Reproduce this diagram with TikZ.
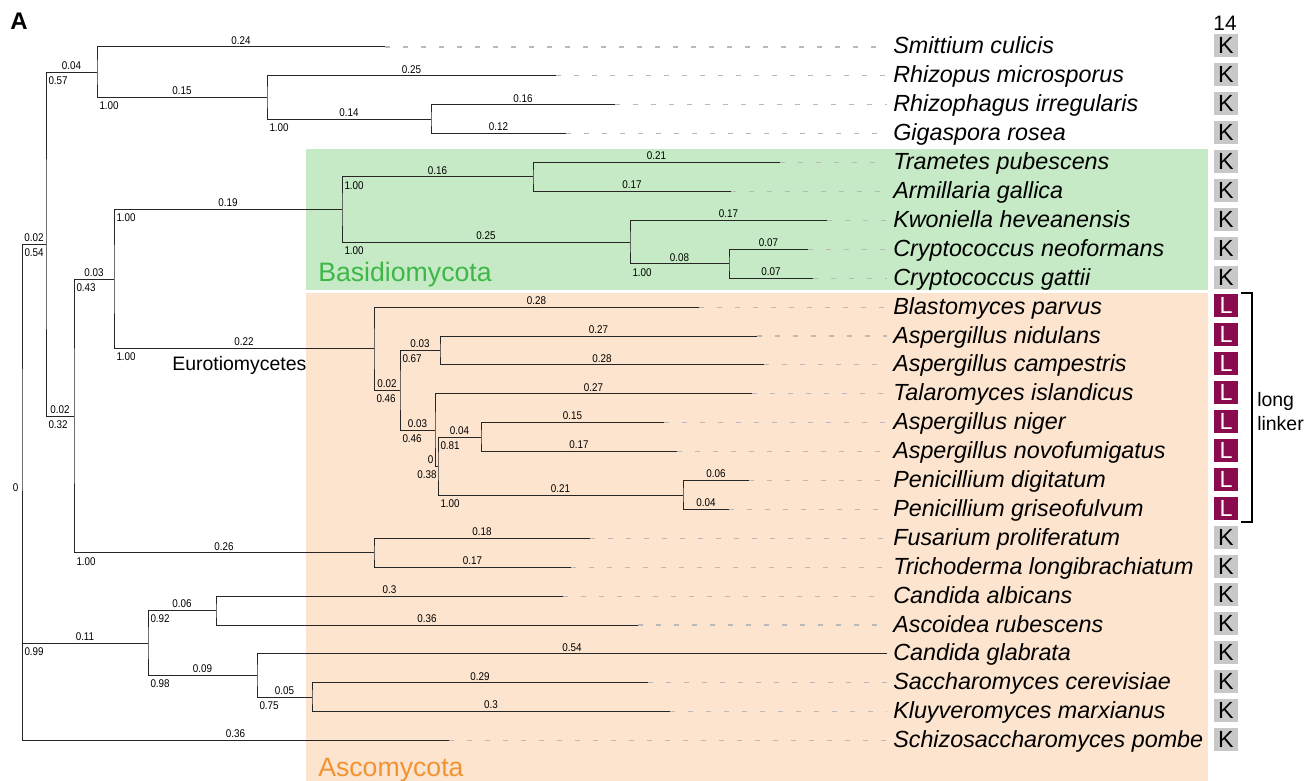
\documentclass[tikz,border=0pt]{standalone}
\usepackage{fontspec}
\setmainfont{Liberation Sans}
\newfontfamily\narrowsans[FakeStretch=0.88]{Liberation Sans}
\usepackage{xcolor}

\definecolor{basidiofill}{RGB}{197,234,197}
\definecolor{ascofill}{RGB}{252,228,206}
\definecolor{basidiotext}{RGB}{63,182,72}
\definecolor{ascotext}{RGB}{243,146,50}
\definecolor{linkerred}{RGB}{138,12,78}
\definecolor{kgrey}{RGB}{200,200,200}
\definecolor{dashgrey}{RGB}{185,185,185}

\tikzset{
	branch/.style={line width=0.75pt, draw=black!85},
	blen/.style={anchor=south, inner sep=0pt, yshift=1.6pt, font=\narrowsans\fontsize{8.4}{8.4}\selectfont},
	bsup/.style={anchor=north west, inner sep=0pt, xshift=1.5pt, yshift=-3pt, font=\narrowsans\fontsize{8.4}{8.4}\selectfont},
	leafdash/.style={draw=dashgrey, line width=0.8pt, dash pattern=on 3.75pt off 9.75pt, shorten >=4.5pt},
	taxon/.style={anchor=base west, inner sep=0pt, yshift=-5.25pt, font=\fontsize{17.5}{17.5}\selectfont\itshape},
	kbox/.style={fill=kgrey, minimum width=18pt, minimum height=17.25pt, inner sep=0pt, yshift=0.9pt, font=\fontsize{17.5}{17.5}\selectfont},
	lbox/.style={kbox, fill=linkerred, text=white},
	cladename/.style={anchor=base west, inner sep=0pt, font=\fontsize{20}{20}\selectfont},
	plainlab/.style={anchor=base west, inner sep=0pt, font=\fontsize{14.6}{14.6}\selectfont}
}

\begin{document}
\begin{tikzpicture}[x=0.75pt, y=-0.75pt]
		\useasboundingbox (0,0) rectangle (1314,781);
		%
		%Basidiomycota
		\fill[basidiofill] (306,149) rectangle (1208,289.5);
		\node[cladename, text=basidiotext] (basidio) at (318,281.7) {Basidiomycota};
		%
		%Ascomycota
		\fill[ascofill] (306,293) rectangle (1208,781);
		\node[cladename, text=ascotext] (asco) at (318,776.7) {Ascomycota};
		%
		%Panel and column
		\node[anchor=base west, inner sep=0pt, font=\fontsize{18}{18}\selectfont\bfseries] (panel) at (10,30) {A};
		\node[anchor=base, inner sep=0pt, font=\fontsize{15.7}{15.7}\selectfont] (colhead) at (1225,31) {14};
		%
		%Inner nodes
		\coordinate (root) at (22,491);
		\coordinate (nA) at (46,244);
		\coordinate (nB) at (97,72.5);
		\coordinate (nC) at (267,97.5);
		\coordinate (nD) at (431,119.3);
		\coordinate (nE) at (74,416);
		\coordinate (nF) at (114,279);
		\coordinate (nG) at (342,209.5);
		\coordinate (nH) at (533,177);
		\coordinate (nI) at (630,242.1);
		\coordinate (nJ) at (729,263.8);
		\coordinate (nK) at (374,348.6);
		\coordinate (nL) at (400,390);
		\coordinate (nM) at (440,350.5);
		\coordinate (nN) at (435,430);
		\coordinate (nO) at (438,466);
		\coordinate (nP) at (481,437.2);
		\coordinate (nQ) at (683,495);
		\coordinate (nR) at (374,552.8);
		\coordinate (nS) at (148,643);
		\coordinate (nT) at (216,610.6);
		\coordinate (nU) at (257,675.6);
		\coordinate (nV) at (312,697.3);
		%
		%Leaf ends
		\coordinate (lSmit) at (385,47);
		\coordinate (lRhizo) at (556,75.9);
		\coordinate (lRhizoph) at (615,104.8);
		\coordinate (lGiga) at (566,133.7);
		\coordinate (lTram) at (780,162.6);
		\coordinate (lArmi) at (731,191.5);
		\coordinate (lKwon) at (827,220.4);
		\coordinate (lCneo) at (808,249.3);
		\coordinate (lCgat) at (813,278.2);
		\coordinate (lBlast) at (699,307.1);
		\coordinate (lAnid) at (757,336);
		\coordinate (lAcamp) at (764,364.9);
		\coordinate (lTala) at (752,393.8);
		\coordinate (lAnig) at (664,422.7);
		\coordinate (lAnov) at (677,451.6);
		\coordinate (lPdig) at (749,480.5);
		\coordinate (lPgris) at (729,509.4);
		\coordinate (lFus) at (590,538.3);
		\coordinate (lTri) at (571,567.2);
		\coordinate (lCalb) at (563,596.1);
		\coordinate (lAsco) at (638,625);
		\coordinate (lCgla) at (887,653.9);
		\coordinate (lScer) at (648,682.8);
		\coordinate (lKmar) at (670,711.7);
		\coordinate (lPombe) at (449,740.6);
		%
		%Root
		\draw[branch] (nA) -| node[blen,pos=.25]{0.02} node[bsup,pos=.5]{0.54} (root) |- node[blen,pos=.75]{0.11} node[bsup,pos=.5]{0.99} (nS);
		\draw[branch] (root) |- node[blen,pos=.75]{0.36} (lPombe);
		\node[anchor=base east, inner sep=0pt, xshift=-2.5pt, font=\narrowsans\fontsize{8.4}{8.4}\selectfont] (rootlab) at (root) {0};
		%
		%Tree A-D
		\draw[branch] (nB) -| node[blen,pos=.25]{0.04} node[bsup,pos=.5]{0.57} (nA) |- node[blen,pos=.75]{0.02} node[bsup,pos=.5]{0.32} (nE);
		\draw[branch] (lSmit) -| node[blen,pos=.25]{0.24} (nB) |- node[blen,pos=.75]{0.15} node[bsup,pos=.5]{1.00} (nC);
		\draw[branch] (lRhizo) -| node[blen,pos=.25]{0.25} (nC) |- node[blen,pos=.75]{0.14} node[bsup,pos=.5]{1.00} (nD);
		\draw[branch] (lRhizoph) -| node[blen,pos=.25]{0.16} (nD) |- node[blen,pos=.75]{0.12} (lGiga);
		%
		%Tree E-J
		\draw[branch] (nF) -| node[blen,pos=.25]{0.03} node[bsup,pos=.5]{0.43} (nE) |- node[blen,pos=.75]{0.26} node[bsup,pos=.5]{1.00} (nR);
		\draw[branch] (nG) -| node[blen,pos=.25]{0.19} node[bsup,pos=.5]{1.00} (nF) |- node[blen,pos=.75]{0.22} node[bsup,pos=.5]{1.00} (nK);
		\draw[branch] (nH) -| node[blen,pos=.25]{0.16} node[bsup,pos=.5]{1.00} (nG) |- node[blen,pos=.75]{0.25} node[bsup,pos=.5]{1.00} (nI);
		\draw[branch] (lTram) -| node[blen,pos=.25]{0.21} (nH) |- node[blen,pos=.75]{0.17} (lArmi);
		\draw[branch] (lKwon) -| node[blen,pos=.25]{0.17} (nI) |- node[blen,pos=.75]{0.08} node[bsup,pos=.5]{1.00} (nJ);
		\draw[branch] (lCneo) -| node[blen,pos=.25]{0.07} (nJ) |- node[blen,pos=.75]{0.07} (lCgat);
		%
		%Tree K-R
		\draw[branch] (lBlast) -| node[blen,pos=.25]{0.28} (nK) |- node[blen,pos=.75]{0.02} node[bsup,pos=.5]{0.46} (nL);
		\draw[branch] (nM) -| node[blen,pos=.25]{0.03} node[bsup,pos=.5]{0.67} (nL) |- node[blen,pos=.75]{0.03} node[bsup,pos=.5]{0.46} (nN);
		\draw[branch] (lAnid) -| node[blen,pos=.25]{0.27} (nM) |- node[blen,pos=.75]{0.28} (lAcamp);
		\draw[branch] (lTala) -| node[blen,pos=.25]{0.27} (nN) |- node[blen,pos=.75,xshift=-4.5pt]{0} node[bsup,pos=.5,anchor=north east]{0.38} (nO);
		\draw[branch] (nP) -| node[blen,pos=.25]{0.04} node[bsup,pos=.5]{0.81} (nO) |- node[blen,pos=.75]{0.21} node[bsup,pos=.5]{1.00} (nQ);
		\draw[branch] (lAnig) -| node[blen,pos=.25]{0.15} (nP) |- node[blen,pos=.75]{0.17} (lAnov);
		\draw[branch] (lPdig) -| node[blen,pos=.25]{0.06} (nQ) |- node[blen,pos=.75]{0.04} (lPgris);
		\draw[branch] (lFus) -| node[blen,pos=.25]{0.18} (nR) |- node[blen,pos=.75]{0.17} (lTri);
		\node[plainlab] (eurot) at (172,370) {Eurotiomycetes};
		%
		%Tree S-V
		\draw[branch] (nT) -| node[blen,pos=.25]{0.06} node[bsup,pos=.5]{0.92} (nS) |- node[blen,pos=.75]{0.09} node[bsup,pos=.5]{0.98} (nU);
		\draw[branch] (lCalb) -| node[blen,pos=.25]{0.3} (nT) |- node[blen,pos=.75]{0.36} (lAsco);
		\draw[branch] (lCgla) -| node[blen,pos=.25]{0.54} (nU) |- node[blen,pos=.75]{0.05} node[bsup,pos=.5]{0.75} (nV);
		\draw[branch] (lScer) -| node[blen,pos=.25]{0.29} (nV) |- node[blen,pos=.75]{0.3} (lKmar);
		%
		%Taxa
		\node[taxon] (tSmit) at (893,47) {Smittium culicis};
		\node[kbox] (bSmit) at (1226,47) {K};
		\draw[leafdash] (lSmit) -- (lSmit -| tSmit.west);
		\node[taxon] (tRhizo) at (893,75.9) {Rhizopus microsporus};
		\node[kbox] (bRhizo) at (1226,75.9) {K};
		\draw[leafdash] (lRhizo) -- (lRhizo -| tRhizo.west);
		\node[taxon] (tRhizoph) at (893,104.8) {Rhizophagus irregularis};
		\node[kbox] (bRhizoph) at (1226,104.8) {K};
		\draw[leafdash] (lRhizoph) -- (lRhizoph -| tRhizoph.west);
		\node[taxon] (tGiga) at (893,133.7) {Gigaspora rosea};
		\node[kbox] (bGiga) at (1226,133.7) {K};
		\draw[leafdash] (lGiga) -- (lGiga -| tGiga.west);
		\node[taxon] (tTram) at (893,162.6) {Trametes pubescens};
		\node[kbox] (bTram) at (1226,162.6) {K};
		\draw[leafdash] (lTram) -- (lTram -| tTram.west);
		\node[taxon] (tArmi) at (893,191.5) {Armillaria gallica};
		\node[kbox] (bArmi) at (1226,191.5) {K};
		\draw[leafdash] (lArmi) -- (lArmi -| tArmi.west);
		\node[taxon] (tKwon) at (893,220.4) {Kwoniella heveanensis};
		\node[kbox] (bKwon) at (1226,220.4) {K};
		\draw[leafdash] (lKwon) -- (lKwon -| tKwon.west);
		\node[taxon] (tCneo) at (893,249.3) {Cryptococcus neoformans};
		\node[kbox] (bCneo) at (1226,249.3) {K};
		\draw[leafdash] (lCneo) -- (lCneo -| tCneo.west);
		\node[taxon] (tCgat) at (893,278.2) {Cryptococcus gattii};
		\node[kbox] (bCgat) at (1226,278.2) {K};
		\draw[leafdash] (lCgat) -- (lCgat -| tCgat.west);
		\node[taxon] (tBlast) at (893,307.1) {Blastomyces parvus};
		\node[lbox] (bBlast) at (1226,307.1) {L};
		\draw[leafdash] (lBlast) -- (lBlast -| tBlast.west);
		\node[taxon] (tAnid) at (893,336) {Aspergillus nidulans};
		\node[lbox] (bAnid) at (1226,336) {L};
		\draw[leafdash] (lAnid) -- (lAnid -| tAnid.west);
		\node[taxon] (tAcamp) at (893,364.9) {Aspergillus campestris};
		\node[lbox] (bAcamp) at (1226,364.9) {L};
		\draw[leafdash] (lAcamp) -- (lAcamp -| tAcamp.west);
		\node[taxon] (tTala) at (893,393.8) {Talaromyces islandicus};
		\node[lbox] (bTala) at (1226,393.8) {L};
		\draw[leafdash] (lTala) -- (lTala -| tTala.west);
		\node[taxon] (tAnig) at (893,422.7) {Aspergillus niger};
		\node[lbox] (bAnig) at (1226,422.7) {L};
		\draw[leafdash] (lAnig) -- (lAnig -| tAnig.west);
		\node[taxon] (tAnov) at (893,451.6) {Aspergillus novofumigatus};
		\node[lbox] (bAnov) at (1226,451.6) {L};
		\draw[leafdash] (lAnov) -- (lAnov -| tAnov.west);
		\node[taxon] (tPdig) at (893,480.5) {Penicillium digitatum};
		\node[lbox] (bPdig) at (1226,480.5) {L};
		\draw[leafdash] (lPdig) -- (lPdig -| tPdig.west);
		\node[taxon] (tPgris) at (893,509.4) {Penicillium griseofulvum};
		\node[lbox] (bPgris) at (1226,509.4) {L};
		\draw[leafdash] (lPgris) -- (lPgris -| tPgris.west);
		\node[taxon] (tFus) at (893,538.3) {Fusarium proliferatum};
		\node[kbox] (bFus) at (1226,538.3) {K};
		\draw[leafdash] (lFus) -- (lFus -| tFus.west);
		\node[taxon] (tTri) at (893,567.2) {Trichoderma longibrachiatum};
		\node[kbox] (bTri) at (1226,567.2) {K};
		\draw[leafdash] (lTri) -- (lTri -| tTri.west);
		\node[taxon] (tCalb) at (893,596.1) {Candida albicans};
		\node[kbox] (bCalb) at (1226,596.1) {K};
		\draw[leafdash] (lCalb) -- (lCalb -| tCalb.west);
		\node[taxon] (tAsco) at (893,625) {Ascoidea rubescens};
		\node[kbox] (bAsco) at (1226,625) {K};
		\draw[leafdash] (lAsco) -- (lAsco -| tAsco.west);
		\node[taxon] (tCgla) at (893,653.9) {Candida glabrata};
		\node[kbox] (bCgla) at (1226,653.9) {K};
		\node[taxon] (tScer) at (893,682.8) {Saccharomyces cerevisiae};
		\node[kbox] (bScer) at (1226,682.8) {K};
		\draw[leafdash] (lScer) -- (lScer -| tScer.west);
		\node[taxon] (tKmar) at (893,711.7) {Kluyveromyces marxianus};
		\node[kbox] (bKmar) at (1226,711.7) {K};
		\draw[leafdash] (lKmar) -- (lKmar -| tKmar.west);
		\node[taxon] (tPombe) at (893,740.6) {Schizosaccharomyces pombe};
		\node[kbox] (bPombe) at (1226,740.6) {K};
		\draw[leafdash] (lPombe) -- (lPombe -| tPombe.west);
		%
		%Long linker
		\draw[line width=0.8pt] (1241,293) -- (1252,293) -- (1252,522) -- (1241,522);
		\node[plainlab] (llong) at (1257,406.7) {long};
		\node[plainlab] (llinker) at (1257,430) {linker};
	\end{tikzpicture}
\end{document}
